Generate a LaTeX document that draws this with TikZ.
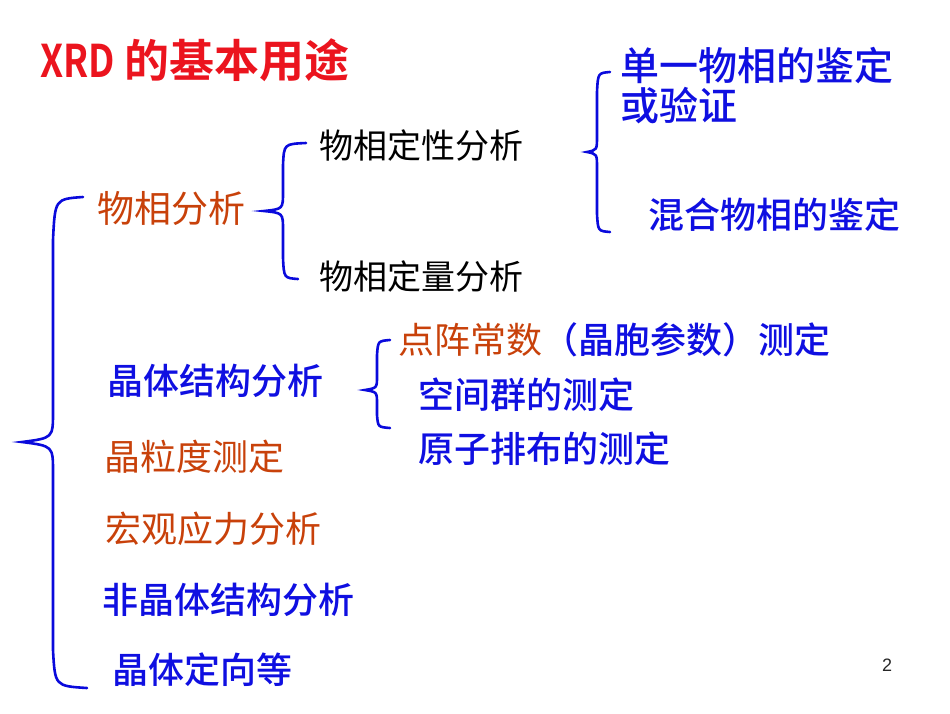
\documentclass[tikz,border=0pt]{standalone}
\usepackage{fontspec}
\newfontfamily\cjk{Noto Sans CJK SC}
\newfontfamily\cjkb{Noto Sans CJK SC Bold}
\newfontfamily\cjkm{Noto Sans CJK SC Medium}
\setmainfont{Liberation Sans}
\definecolor{titlered}{RGB}{235,20,30}
\definecolor{rust}{RGB}{200,65,10}
\definecolor{deepblue}{RGB}{15,15,225}
\definecolor{bracecol}{RGB}{10,10,220}

\begin{document}
\begin{tikzpicture}[x=1pt, y=-1pt,
    item/.style={anchor=west, inner sep=0pt, outer sep=0pt},
    blueitem/.style={item, text=deepblue, font=\cjkm\fontsize{36}{40}\selectfont},
    rustitem/.style={item, text=rust, font=\cjk\fontsize{36}{40}\selectfont},
    blackitem/.style={item, text=black, font=\cjk\fontsize{34}{38}\selectfont},
    bracepath/.style={draw=bracecol, line width=2.6pt, line cap=round}]

        % page size of the slide
        \useasboundingbox (0,0) rectangle (950,713);

        % title
        \node[item, text=titlered, font=\cjkb\fontsize{45}{50}\selectfont] (title) at (40,60)
            {\scalebox{0.82}[1]{XRD} 的基本用途};

        % first level
        \node[rustitem, font=\cjk\fontsize{37}{40}\selectfont] (phase) at (97,208) {物相分析};
        \node[blueitem] (crystal) at (107,381) {晶体结构分析};
        \node[rustitem] (grain) at (104,457) {晶粒度测定};
        \node[rustitem] (stress) at (105,529) {宏观应力分析};
        \node[blueitem] (amorph) at (102,600) {非晶体结构分析};
        \node[blueitem] (orient) at (112,670) {晶体定向等};

        % phase analysis branch
        \node[blackitem] (quali) at (319,146) {物相定性分析};
        \node[blackitem] (quanti) at (319,277) {物相定量分析};
        \node[blueitem, font=\cjkm\fontsize{39}{40}\selectfont, align=left] (single) at (620,86)
            {单一物相的鉴定\\或验证};
        \node[blueitem] (mixed) at (648,215) {混合物相的鉴定};

        % crystal structure branch
        \node[blueitem] (lattice) at (398,340)
            {\textcolor{rust}{\cjk 点阵常数}（晶胞参数）测定};
        \node[blueitem] (space) at (418,395) {空间群的测定};
        \node[blueitem] (atoms) at (418,449) {原子排布的测定};

        % page number
        \node[item, font=\fontsize{18}{20}\selectfont, text=black!85] (page) at (882,665) {2};

        % big brace on the left
        \draw[bracepath] (83,197) .. controls (55,199) .. (53,240) -- (53,412)
            .. controls (53,438) .. (22,442) .. controls (53,446) .. (53,472)
            -- (53,650) .. controls (55,686) .. (87,688);

        % brace after phase analysis
        \draw[bracepath] (306,143) .. controls (284,144) .. (283,165) -- (283,192)
            .. controls (283,209) .. (264,211) .. controls (283,213) .. (283,230)
            -- (283,258) .. controls (284,278) .. (298,279);

        % brace before the qualitative items
        \draw[bracepath] (610,72) .. controls (598,73) .. (597,92) -- (597,136)
            .. controls (597,150) .. (587,152) .. controls (597,154) .. (597,168)
            -- (597,214) .. controls (598,231) .. (610,232);

        % brace before the structure items
        \draw[bracepath] (390,340) .. controls (378,341) .. (377,355) -- (377,376)
            .. controls (377,388) .. (365,390) .. controls (377,392) .. (377,404)
            -- (377,415) .. controls (378,427) .. (390,428);

\end{tikzpicture}
\end{document}
